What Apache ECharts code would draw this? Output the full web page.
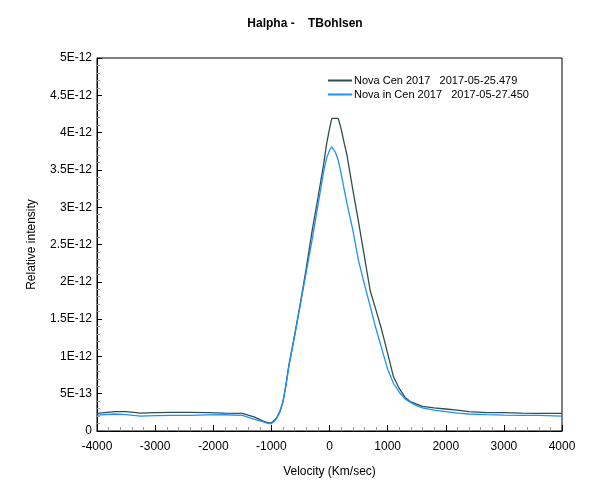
<!DOCTYPE html>
<html>
<head>
<meta charset="utf-8">
<script src="https://cdn.jsdelivr.net/npm/echarts@6/dist/echarts.min.js"></script>
<style>html,body{margin:0;padding:0;background:#fff}#c{width:600px;height:500px}</style>
</head>
<body>
<div id="c"></div>
<script>
// Velocity (km/s)
const velocity = [-4000,-3700,-3500,-3250,-3000,-2700,-2400,-2100,-1800,-1500,-1300,-1150,-1050,-1000,-950,-900,-850,-800,-750,-700,-600,-500,-400,-300,-200,-100,-50,0,40,100,150,200,250,300,400,500,600,700,800,900,1000,1100,1200,1300,1400,1500,1600,1800,2000,2200,2400,2700,3000,3300,3600,4000];
// Intensities in units of 1e-12
const novaCen0525 = [0.237,0.26,0.26,0.24,0.245,0.25,0.25,0.245,0.24,0.237,0.19,0.135,0.11,0.11,0.14,0.19,0.27,0.40,0.62,0.88,1.29,1.72,2.18,2.68,3.12,3.58,3.85,4.05,4.19,4.19,4.19,4.05,3.87,3.70,3.24,2.80,2.34,1.88,1.62,1.35,1.04,0.73,0.57,0.45,0.39,0.36,0.33,0.31,0.295,0.28,0.26,0.245,0.245,0.24,0.237,0.237];
const novaCen0527 = [0.214,0.228,0.22,0.20,0.205,0.21,0.21,0.215,0.218,0.21,0.16,0.125,0.10,0.10,0.13,0.18,0.26,0.39,0.60,0.86,1.27,1.70,2.13,2.56,3.02,3.48,3.66,3.76,3.81,3.74,3.63,3.45,3.25,3.05,2.70,2.28,1.97,1.67,1.37,1.10,0.83,0.64,0.52,0.43,0.38,0.34,0.31,0.28,0.26,0.24,0.228,0.22,0.214,0.21,0.21,0.20];
const UNIT = 1e-12;
const seriesNames = ['Nova Cen 2017   2017-05-25.479', 'Nova in Cen 2017   2017-05-27.450'];

const toPairs = arr => velocity.map((v, i) => [v, arr[i] * UNIT]);

function fmtY(v) {
  if (Math.abs(v) < 1e-20) return '0';
  const e = Math.floor(Math.log10(v) + 1e-9);
  let m = Math.round(v / Math.pow(10, e) * 100) / 100;
  return m + 'E' + e;
}

const chart = echarts.init(document.getElementById('c'), null, {renderer: 'canvas'});
const font = 'Liberation Sans, Arial, sans-serif';
chart.setOption({
  animation: false,
  title: {
    text: 'Halpha -    TBohlsen',
    left: 300, top: 13, textAlign: 'center',
    textStyle: {fontSize: 12, fontWeight: 'bold', color: '#000', fontFamily: font}
  },
  legend: {
    orient: 'vertical', left: 323, top: 70, itemGap: 3,
    itemWidth: 24, itemHeight: 2, icon: 'rect',
    textStyle: {fontSize: 11, color: '#000', fontFamily: font, padding: [0,0,0,-3]},
    data: seriesNames
  },
  grid: {left: 97, right: 38, top: 58, bottom: 69, show: true, borderColor: '#000', borderWidth: 1, backgroundColor: 'transparent'},
  xAxis: {
    type: 'value', min: -4000, max: 4000, interval: 1000,
    name: 'Velocity (Km/sec)', nameLocation: 'middle', nameGap: 35,
    nameTextStyle: {fontSize: 12, color: '#000', fontFamily: font},
    axisLine: {onZero: false, lineStyle: {color: '#000', width: 1}},
    axisTick: {inside: true, length: 6, lineStyle: {color: '#000'}},
    minorTick: {show: true, splitNumber: 5, length: 4, lineStyle: {color: '#999'}},
    axisLabel: {fontSize: 12, color: '#000', margin: 10, fontFamily: font, formatter: v => String(v)},
    splitLine: {show: false}
  },
  yAxis: {
    type: 'value', min: 0, max: 5e-12, interval: 5e-13,
    name: 'Relative intensity', nameLocation: 'middle', nameGap: 59,
    nameTextStyle: {fontSize: 12, color: '#000', fontFamily: font},
    axisLine: {onZero: false, lineStyle: {color: '#000', width: 1}},
    axisTick: {inside: true, length: 5, lineStyle: {color: '#000'}},
    minorTick: {show: true, splitNumber: 5, length: 3, lineStyle: {color: '#999'}},
    axisLabel: {fontSize: 12, color: '#000', margin: 5, fontFamily: font, formatter: fmtY},
    splitLine: {show: false}
  },
  series: [
    {name: seriesNames[0], type: 'line', data: toPairs(novaCen0525), showSymbol: false, smooth: false,
     lineStyle: {color: '#2F4F4F', width: 1.3}, itemStyle: {color: '#2F4F4F'}},
    {name: seriesNames[1], type: 'line', data: toPairs(novaCen0527), showSymbol: false, smooth: false,
     lineStyle: {color: '#1E90FF', width: 1.3}, itemStyle: {color: '#1E90FF'}}
  ]
});
</script>
</body>
</html>
